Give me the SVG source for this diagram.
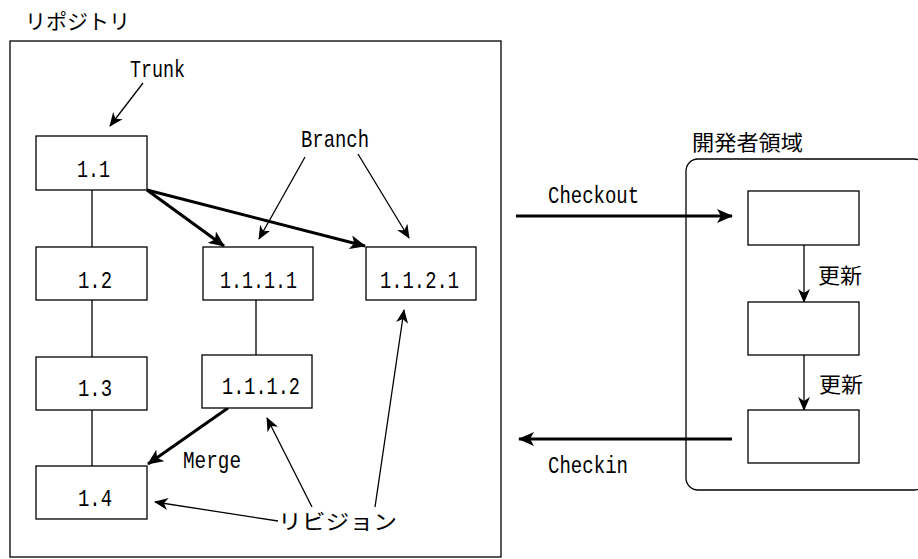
<svg xmlns="http://www.w3.org/2000/svg" width="918" height="559" viewBox="0 0 918 559">
<style>
.box{fill:#fff;stroke:#000;stroke-width:1.3}
.t{font-family:"Liberation Mono","DejaVu Sans Mono",monospace;font-size:24px;fill:#000}
.j{font-family:"Noto Sans CJK JP","Noto Sans CJK SC",sans-serif;font-size:21px;fill:#000}
.thin{stroke:#000;stroke-width:1.3;fill:none}
.thick{stroke:#000;stroke-width:3;fill:none}
</style>
<defs>
<marker id="a" markerUnits="userSpaceOnUse" markerWidth="14" markerHeight="12" viewBox="0 0 14 12" refX="13" refY="6" orient="auto">
<path d="M0,0 L14,6 L0,12 L4,6 z" fill="#000"/>
</marker>
<marker id="ab" markerUnits="userSpaceOnUse" markerWidth="16" markerHeight="14" viewBox="0 0 16 14" refX="15" refY="7" orient="auto">
<path d="M0,0 L16,7 L0,14 L4,7 z" fill="#000"/>
</marker>
</defs>
<rect width="918" height="559" fill="#fff"/>

<g id="repository">
<rect class="box" x="10" y="41" width="491" height="516" fill="none"/>
<text class="j" x="25" y="29" textLength="105" lengthAdjust="spacingAndGlyphs">リポジトリ</text>
</g>

<g id="dev-area">
<rect class="box" x="686" y="159" width="240" height="331" rx="12" fill="none"/>
<text class="j" x="692" y="150" textLength="111" lengthAdjust="spacingAndGlyphs">開発者領域</text>
</g>

<g id="connectors">
<line class="thin" x1="92" y1="190" x2="92" y2="247"/>
<line class="thin" x1="92" y1="300" x2="92" y2="357"/>
<line class="thin" x1="92" y1="410" x2="92" y2="466"/>
<line class="thin" x1="256" y1="300" x2="256" y2="355"/>
<line class="thick" x1="147" y1="190" x2="224" y2="246" marker-end="url(#ab)"/>
<line class="thick" x1="147" y1="190" x2="365" y2="246" marker-end="url(#ab)"/>
<line class="thick" x1="228" y1="408" x2="148" y2="464" marker-end="url(#ab)"/>
<line class="thin" x1="143" y1="83" x2="110" y2="126" marker-end="url(#a)"/>
<line class="thin" x1="305" y1="157" x2="259" y2="239" marker-end="url(#a)"/>
<line class="thin" x1="358" y1="154" x2="409" y2="238" marker-end="url(#a)"/>
<line class="thin" x1="278" y1="521" x2="155" y2="502" marker-end="url(#a)"/>
<line class="thin" x1="312" y1="507" x2="267" y2="418" marker-end="url(#a)"/>
<line class="thin" x1="375" y1="507" x2="404" y2="310" marker-end="url(#a)"/>
<line class="thick" x1="516" y1="216" x2="732" y2="216" marker-end="url(#ab)"/>
<line class="thick" x1="732" y1="439" x2="519" y2="439" marker-end="url(#ab)"/>
<line class="thin" x1="804" y1="245" x2="804" y2="302" marker-end="url(#a)"/>
<line class="thin" x1="804" y1="355" x2="804" y2="410" marker-end="url(#a)"/>
</g>

<g id="labels">
<text class="t" x="130" y="77" textLength="55" lengthAdjust="spacingAndGlyphs">Trunk</text>
<text class="t" x="301" y="147" textLength="68" lengthAdjust="spacingAndGlyphs">Branch</text>
<text class="t" x="183" y="468" textLength="58" lengthAdjust="spacingAndGlyphs">Merge</text>
<text class="j" x="278" y="529" textLength="119" lengthAdjust="spacingAndGlyphs">リビジョン</text>
<text class="t" x="548" y="203" textLength="91" lengthAdjust="spacingAndGlyphs">Checkout</text>
<text class="t" x="548" y="473" textLength="80" lengthAdjust="spacingAndGlyphs">Checkin</text>
<text class="j" x="818" y="283" textLength="44" lengthAdjust="spacingAndGlyphs">更新</text>
<text class="j" x="819" y="392" textLength="44" lengthAdjust="spacingAndGlyphs">更新</text>
</g>

<g id="n1-1"><rect class="box" x="36" y="136" width="111" height="54"/><text class="t" x="77" y="177" textLength="33" lengthAdjust="spacingAndGlyphs">1.1</text></g>
<g id="n1-2"><rect class="box" x="36" y="247" width="111" height="53"/><text class="t" x="78" y="288" textLength="34" lengthAdjust="spacingAndGlyphs">1.2</text></g>
<g id="n1-3"><rect class="box" x="36" y="357" width="111" height="53"/><text class="t" x="78" y="396" textLength="34" lengthAdjust="spacingAndGlyphs">1.3</text></g>
<g id="n1-4"><rect class="box" x="36" y="466" width="111" height="53"/><text class="t" x="78" y="506" textLength="34" lengthAdjust="spacingAndGlyphs">1.4</text></g>
<g id="n1-1-1-1"><rect class="box" x="203" y="247" width="110" height="53"/><text class="t" x="220" y="288" textLength="77" lengthAdjust="spacingAndGlyphs">1.1.1.1</text></g>
<g id="n1-1-1-2"><rect class="box" x="202" y="355" width="110" height="53"/><text class="t" x="222" y="394" textLength="78" lengthAdjust="spacingAndGlyphs">1.1.1.2</text></g>
<g id="n1-1-2-1"><rect class="box" x="366" y="247" width="110" height="53"/><text class="t" x="380" y="288" textLength="79" lengthAdjust="spacingAndGlyphs">1.1.2.1</text></g>

<g id="w1"><rect class="box" x="748" y="191" width="111" height="54"/></g>
<g id="w2"><rect class="box" x="748" y="302" width="111" height="53"/></g>
<g id="w3"><rect class="box" x="748" y="410" width="111" height="53"/></g>
</svg>
